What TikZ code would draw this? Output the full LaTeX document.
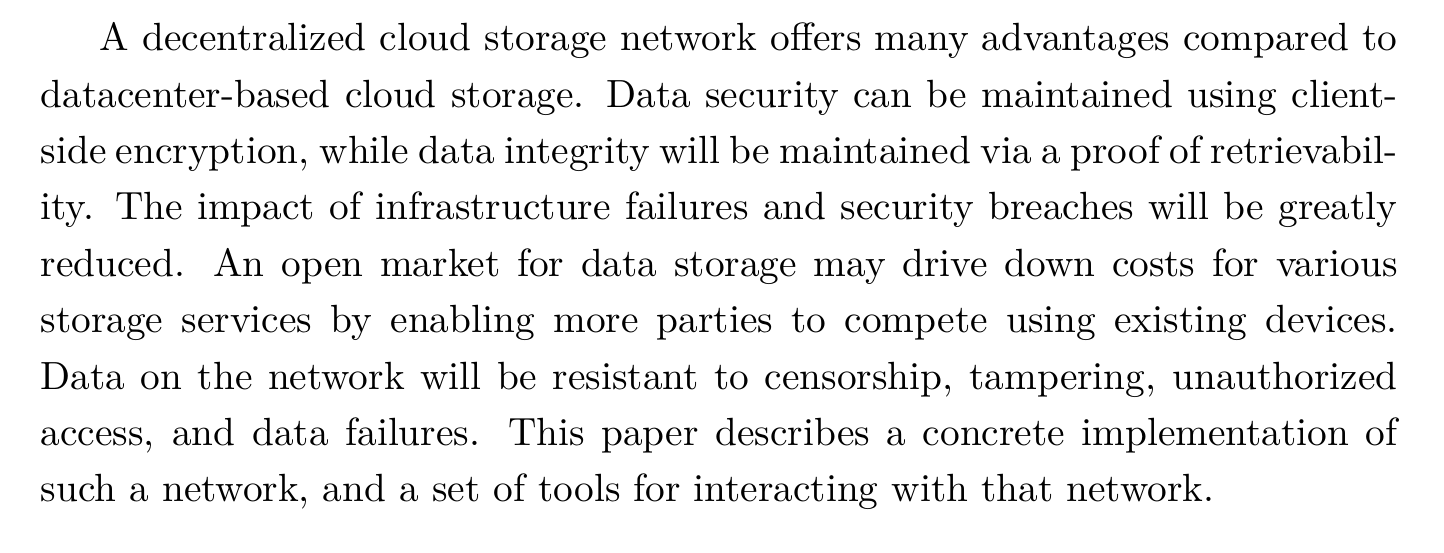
\documentclass[tikz,border=0pt]{standalone}
\usepackage{tikz}

\begin{document}
\begin{tikzpicture}[x=1pt,y=1pt]
\useasboundingbox (0,0) rectangle (367.15,-140.35);
\node[anchor=base west,inner sep=0pt,text width=345pt,align=justify,
  font=\fontsize{10}{14.34}\selectfont](para) at (10.17,-12.9) {%
\hspace*{15pt}A decentralized cloud storage network offers many advantages compared to\linebreak
datacenter-based cloud storage. Data security can be maintained using client-\linebreak
side encryption, while data integrity will be maintained via a proof of retrievabil-\linebreak
ity. The impact of infrastructure failures and security breaches will be greatly\linebreak
reduced. An open market for data storage may drive down costs for various\linebreak
storage services by enabling more parties to compete using existing devices.\linebreak
Data on the network will be resistant to censorship, tampering, unauthorized\linebreak
access, and data failures. This paper describes a concrete implementation of\linebreak
such a network, and a set of tools for interacting with that network.};
\end{tikzpicture}
\end{document}
